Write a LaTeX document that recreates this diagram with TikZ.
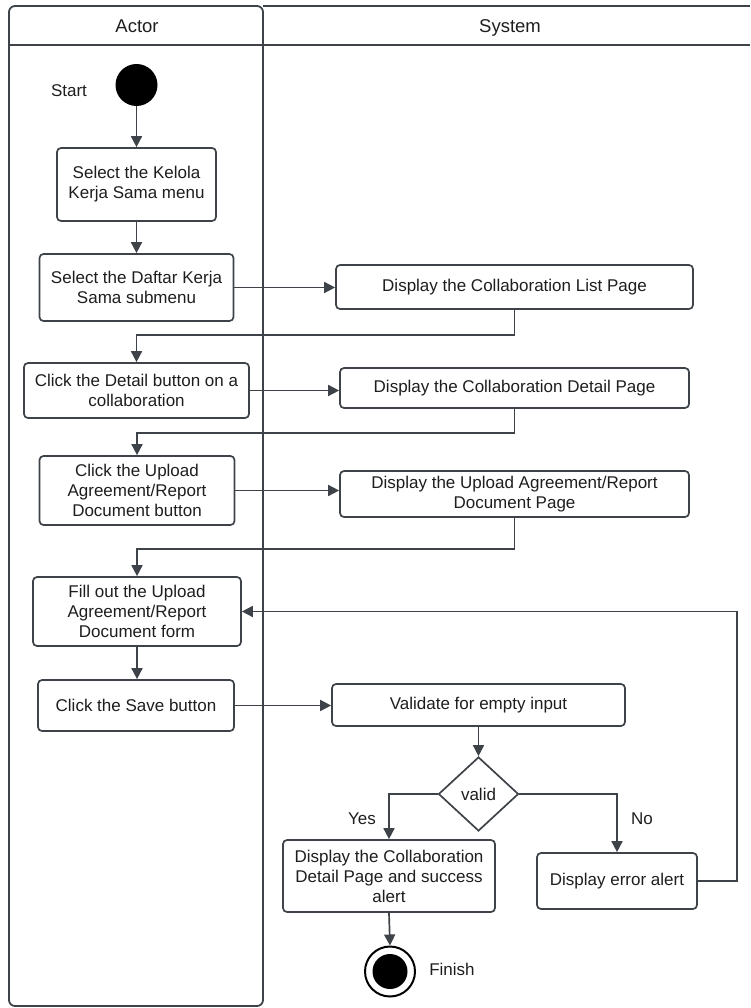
\documentclass[tikz,border=0pt]{standalone}
\usepackage{fontspec}
\setmainfont{Liberation Sans}
\usetikzlibrary{shapes.geometric,arrows.meta}
\definecolor{ln}{HTML}{3E434A}
\definecolor{tx}{HTML}{1E1E1E}
\tikzset{
  lane/.style={draw=ln, line width=1.8pt},
  box/.style={draw=ln, line width=1.7pt, rounded corners=4pt, fill=white, inner sep=2pt,
    align=center, text=tx, font=\fontsize{17}{20}\selectfont},
  arr/.style={draw=ln, line width=1.7pt, -{Triangle[length=11pt,width=11pt]}},
  lbl/.style={text=tx, font=\fontsize{17}{20}\selectfont, inner sep=0pt, anchor=base},
  hdr/.style={text=tx, font=\fontsize{18.5}{20}\selectfont, inner sep=0pt, anchor=base}
}
\begin{document}
\begin{tikzpicture}[x=1pt,y=-1pt]
\useasboundingbox (0,0) rectangle (750,1008);
% lanes
\draw[lane, rounded corners=6pt] (9,6) rectangle (263,1006);
\draw[lane] (263,6) -- (750,6);
\draw[lane] (9,45) -- (750,45);
\node[hdr] (hActor) at (137,33) {Actor};
\node[hdr] (hSystem) at (510,33) {System};
% start
\node[circle, fill=black, minimum size=42pt, inner sep=0pt] (start) at (136.5,85) {};
\node[lbl] (startlbl) at (69,97) {Start};
% actor boxes
\node[box, minimum width=159pt, minimum height=73pt] (a1) at (136.5,184.5) {Select the Kelola\\Kerja Sama menu};
\node[box, minimum width=194pt, minimum height=67pt] (a2) at (136.5,287.5) {Select the Daftar Kerja\\Sama submenu};
\node[box, minimum width=225pt, minimum height=55pt] (a3) at (136.5,390.5) {Click the Detail button on a\\collaboration};
\node[box, minimum width=195pt, minimum height=69pt] (a4) at (137,490.5) {Click the Upload\\Agreement/Report\\Document button};
\node[box, minimum width=208pt, minimum height=69pt] (a5) at (137,611.5) {Fill out the Upload\\Agreement/Report\\Document form};
\node[box, minimum width=196pt, minimum height=51pt] (a6) at (136,705.5) {Click the Save button};
% system boxes
\node[box, minimum width=357pt, minimum height=44pt] (s1) at (514.5,287) {Display the Collaboration List Page};
\node[box, minimum width=349pt, minimum height=40pt] (s2) at (514.5,388) {Display the Collaboration Detail Page};
\node[box, minimum width=349pt, minimum height=46pt] (s3) at (514.5,494) {Display the Upload Agreement/Report\\Document Page};
\node[box, minimum width=293pt, minimum height=42pt] (v) at (478.5,705) {Validate for empty input};
\node[diamond, draw=ln, line width=1.7pt, fill=white, minimum width=80pt, minimum height=74pt, inner sep=0pt,
  text=tx, font=\fontsize{17}{20}\selectfont] (d) at (478.5,794) {valid};
\node[box, minimum width=212pt, minimum height=72pt] (yes) at (389,876) {Display the Collaboration\\Detail Page and success\\alert};
\node[box, minimum width=160pt, minimum height=56pt] (err) at (617,881) {Display error alert};
% finish
\node[circle, draw=black, line width=2pt, fill=white, minimum size=50pt, inner sep=0pt] (fin) at (390,971.5) {};
\node[circle, fill=black, minimum size=35pt, inner sep=0pt] (finin) at (fin.center) {};
\node[lbl] (finlbl) at (452,975) {Finish};
% labels
\node[lbl] (yeslbl) at (362,824) {Yes};
\node[lbl] (nolbl) at (642,824) {No};
% connectors
\draw[arr] (start.south) -- (start.south |- a1.north);
\draw[arr] (a1.south) -- (a1.south |- a2.north);
\draw[arr] (a2.east) -- (a2.east -| s1.west);
\draw[arr] (s1.south) -- ++(0,25) -| (a3.north);
\draw[arr] (a3.east) -- (a3.east -| s2.west);
\draw[arr] (s2.south) -- ++(0,24) -| (a4.north);
\draw[arr] (a4.east) -- (a4.east -| s3.west);
\draw[arr] (s3.south) -- ++(0,31) -| (a5.north);
\draw[arr] (a5.south) -- (a5.south |- a6.north);
\draw[arr] (a6.east) -- (a6.east -| v.west);
\draw[arr] (v.south) -- (d.north);
\draw[arr] (d.west) -| (yes.north);
\draw[arr] (d.east) -| (err.north);
\draw[arr] (err.east) -- ++(39,0) |- (a5.east);
\draw[arr] (yes.south) -- (fin.north);
\end{tikzpicture}
\end{document}
